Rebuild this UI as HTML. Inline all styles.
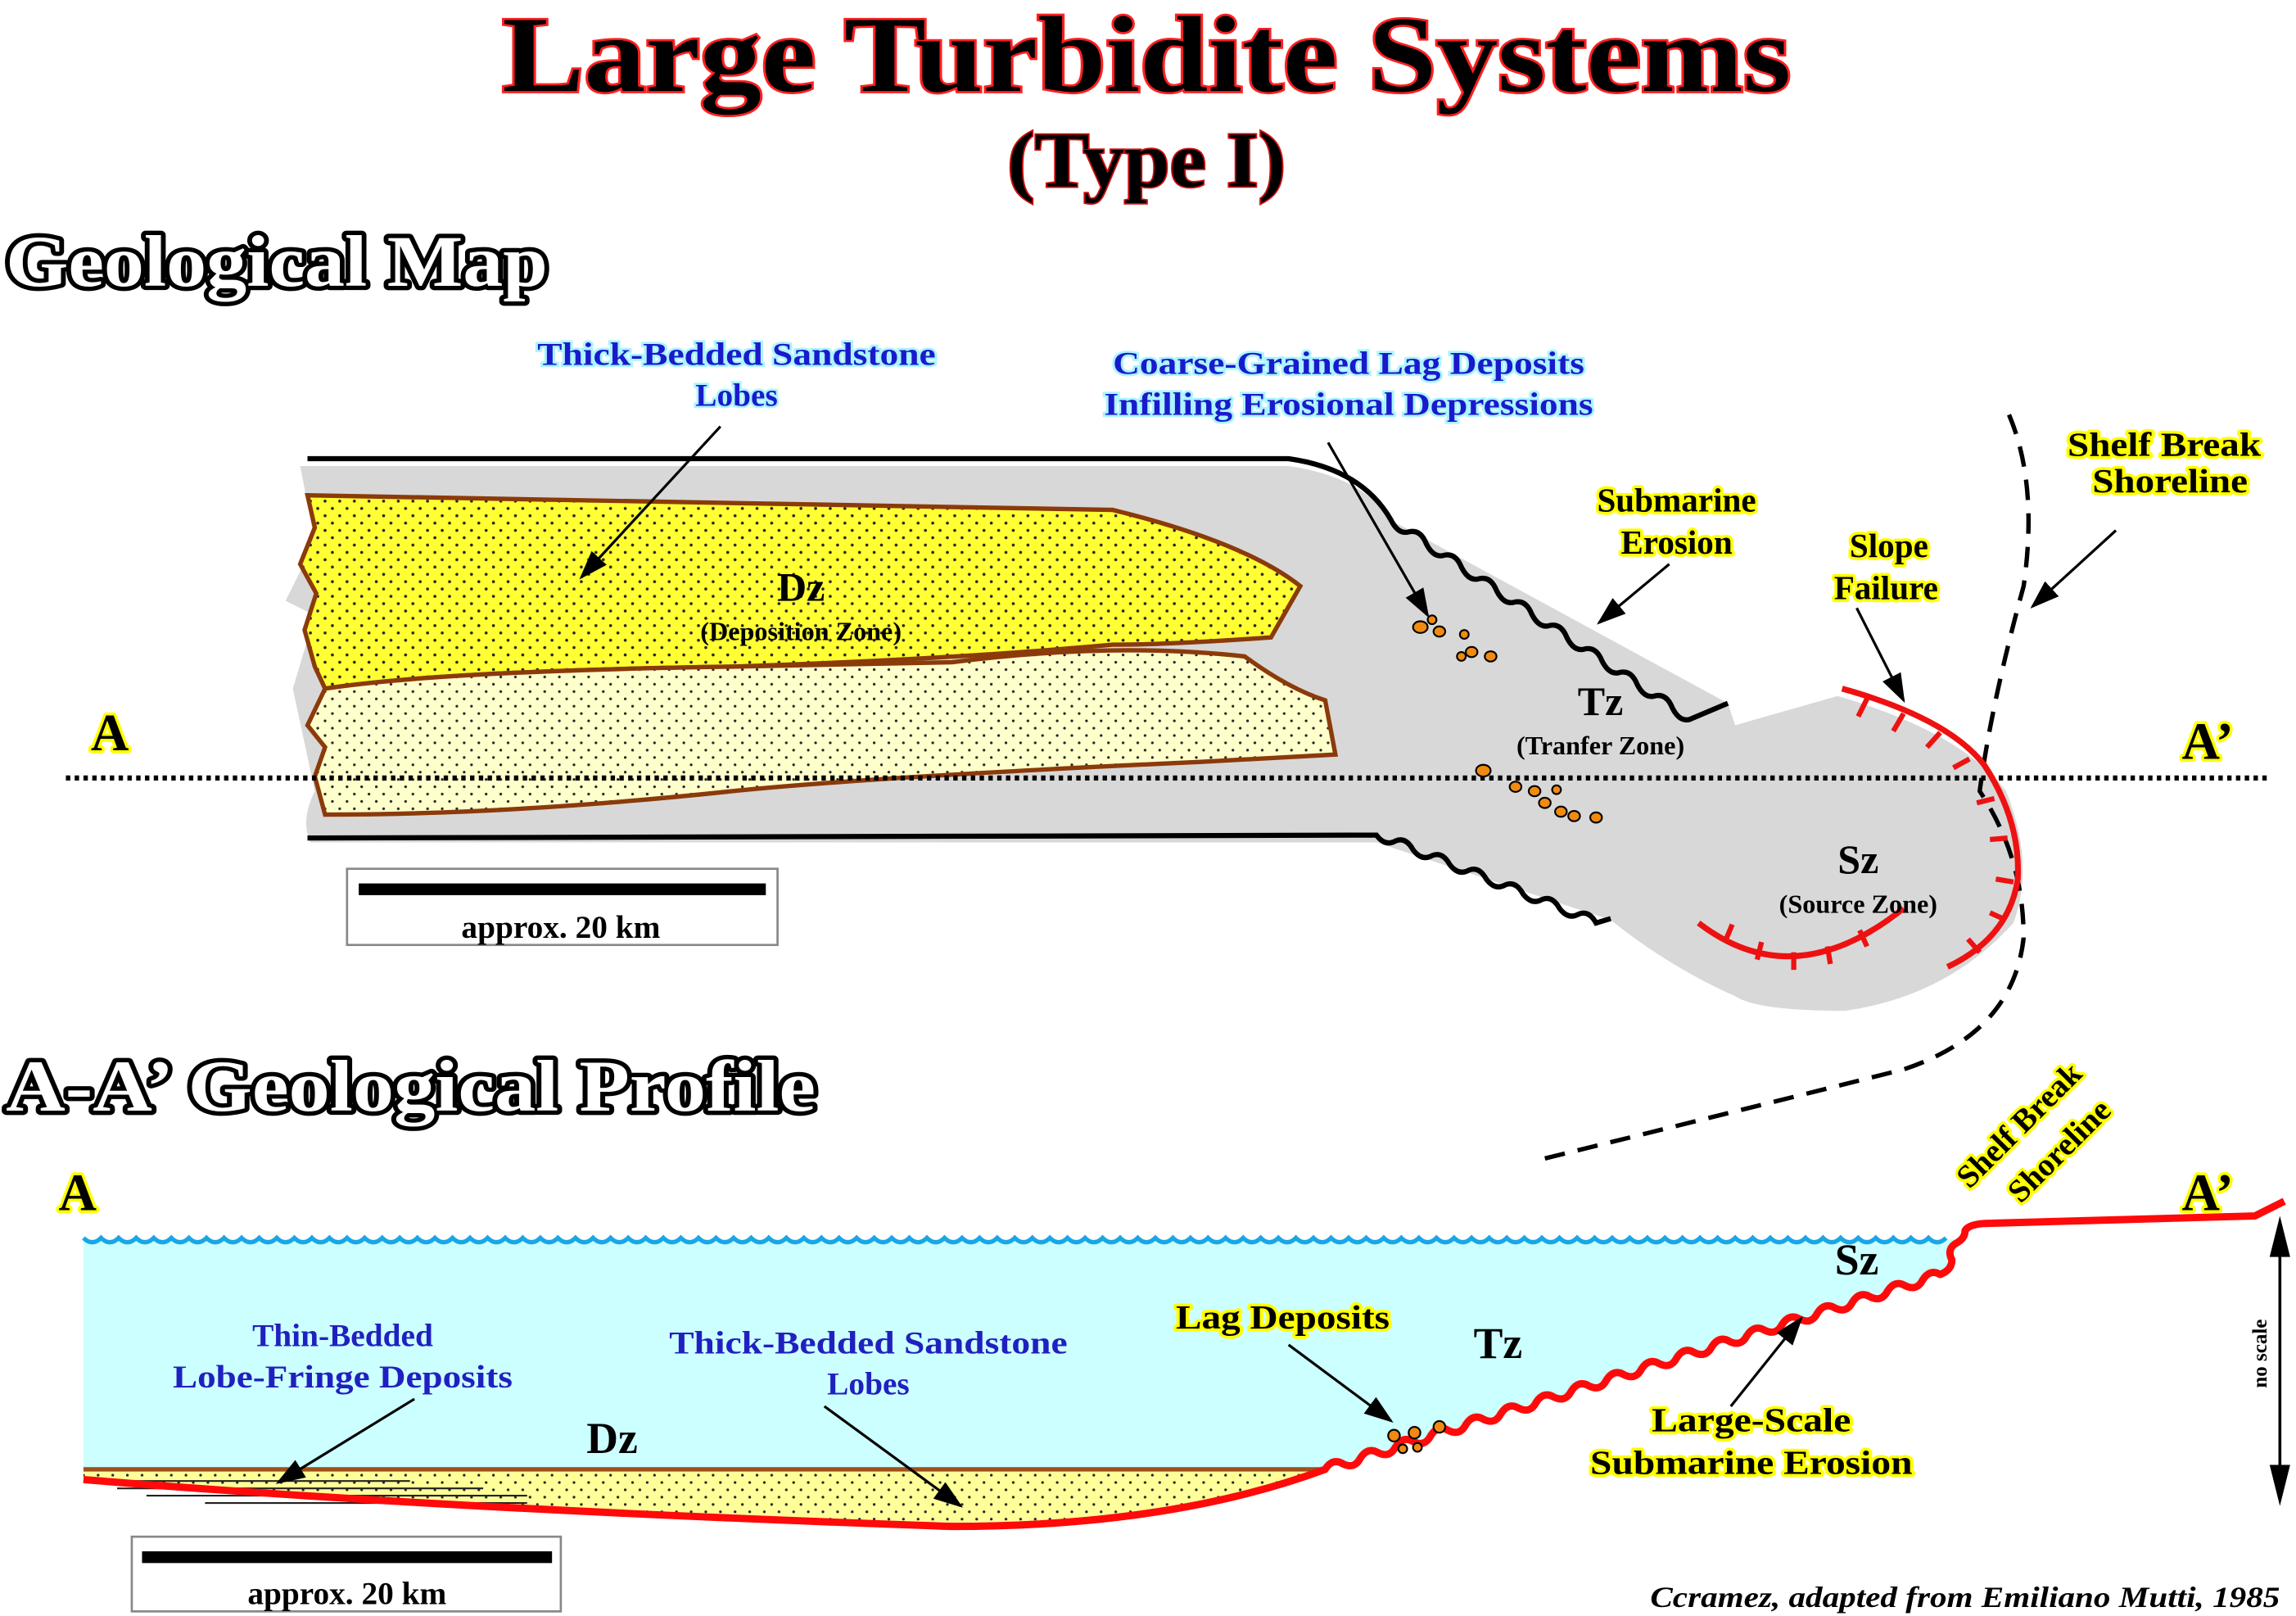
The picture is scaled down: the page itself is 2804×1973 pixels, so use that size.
<!DOCTYPE html>
<html><head><meta charset="utf-8"><style>html,body{margin:0;padding:0;background:#fff}svg{display:block}</style></head>
<body>
<svg width="2804" height="1973" viewBox="0 0 1568 1103" xmlns="http://www.w3.org/2000/svg">
<defs>
<pattern id="dots" width="10" height="10" patternUnits="userSpaceOnUse"><rect width="10" height="10" fill="#ffff33"/><circle cx="2" cy="2" r="1" fill="#222"/><circle cx="7" cy="7" r="1" fill="#222"/></pattern>
<pattern id="dots2" width="10" height="10" patternUnits="userSpaceOnUse"><rect width="10" height="10" fill="#ffffcc"/><circle cx="2" cy="2" r="0.9" fill="#222"/><circle cx="7" cy="7" r="0.9" fill="#222"/></pattern>
<pattern id="dots3" width="10" height="10" patternUnits="userSpaceOnUse"><rect width="10" height="10" fill="#ffff99"/><circle cx="2" cy="2" r="0.9" fill="#222"/><circle cx="7" cy="7" r="0.9" fill="#222"/></pattern>
<marker id="ahb" markerWidth="20" markerHeight="14" refX="18" refY="7" orient="auto" markerUnits="userSpaceOnUse"><path d="M0,0 L20,7 L0,14 z" fill="#000"/></marker>
</defs>
<style>
text{font-family:"Liberation Serif",serif;font-weight:bold}
.y{fill:#000;stroke:#ffff00;stroke-width:4;paint-order:stroke;stroke-linejoin:round}
.b{fill:#1a1acc;stroke:#aaf4ff;stroke-width:3;paint-order:stroke}
.bl{fill:#2020c0}
</style>

<text x="783" y="62" text-anchor="middle" font-size="74" textLength="880" lengthAdjust="spacingAndGlyphs" fill="#000" stroke="#ff2020" stroke-width="3" paint-order="stroke">Large Turbidite Systems</text>
<text x="783" y="127" text-anchor="middle" font-size="54" textLength="190" lengthAdjust="spacingAndGlyphs" fill="#000" stroke="#cc1010" stroke-width="2" paint-order="stroke">(Type I)</text>
<text x="4" y="195" font-size="50" textLength="370" lengthAdjust="spacingAndGlyphs" fill="#fff" stroke="#000" stroke-width="6" paint-order="stroke" stroke-linejoin="round">Geological Map</text>
<text x="4" y="758" font-size="50" textLength="553" lengthAdjust="spacingAndGlyphs" fill="#fff" stroke="#000" stroke-width="6" paint-order="stroke" stroke-linejoin="round">A-A’ Geological Profile</text>

<path d="M205,318 L880,318 Q930,325 950,355 L1180,480 L1185,495 Q1220,485 1255,475 Q1340,500 1370,540 Q1390,590 1375,630 Q1330,680 1260,690 Q1200,690 1185,680 Q1140,660 1100,628 L940,575 L212,575 Q205,560 215,540 L200,470 L215,420 L195,410 L215,370 Z" fill="#d8d8d8"/>
<path d="M210,338 L760,348 Q850,370 888,400 L868,435 Q800,440 760,440 Q650,450 500,455 Q300,458 222,470 L215,455 L208,430 L216,405 L205,385 L215,360 Z" fill="url(#dots)" stroke="#8b3a0a" stroke-width="3"/>
<path d="M222,470 Q300,458 500,455 L650,452 Q760,438 850,448 Q880,470 905,478 L912,515 L820,520 Q600,530 500,540 Q350,556 222,556 L215,530 L222,510 L210,495 Z" fill="url(#dots2)" stroke="#8b3a0a" stroke-width="3"/>
<path d="M210,313 L880,313 Q930,320 950,355 q5,10 12,8 q8,-2 12,8 q5,10 12,8 q8,-2 12,8 q5,10 12,8 q8,-2 12,8 q5,10 12,8 q8,-2 12,8 q5,10 12,8 q8,-2 12,8 q5,10 12,8 q8,-2 12,8 q5,10 12,8 q8,-2 12,8 q5,10 12,8 q8,-2 12,8 q5,10 12,8 L1180,480" fill="none" stroke="#000" stroke-width="3.5"/>
<path d="M210,572 L940,570 q6,8 13,4 q7,-3 12,6 q6,8 13,4 q7,-3 12,6 q6,8 13,4 q7,-3 12,6 q6,8 13,4 q7,-3 12,6 q6,8 13,4 q7,-3 12,6 q6,8 13,4 q7,-3 12,6 L1100,627" fill="none" stroke="#000" stroke-width="3.5"/>
<line x1="45" y1="531" x2="1548" y2="531" stroke="#000" stroke-width="3.5" stroke-dasharray="3,3"/>
<path d="M1372,283 Q1392,330 1382,400 Q1360,480 1352,540 Q1382,585 1382,640 Q1375,705 1300,730 Q1180,760 1050,792" fill="none" stroke="#000" stroke-width="3" stroke-dasharray="14,9"/>
<path d="M1258,470 Q1330,490 1355,522 Q1380,560 1378,600 Q1372,640 1330,660" fill="none" stroke="#ee1111" stroke-width="4"/>
<path d="M1275,477 l-6,12 M1300,487 l-7,12 M1325,500 l-9,10 M1345,518 l-11,6 M1362,545 l-12,3 M1371,572 l-12,1 M1375,602 l-12,-2 M1370,628 l-11,-5 M1352,650 l-8,-9" stroke="#ee1111" stroke-width="3.5"/>
<path d="M1160,630 Q1225,680 1300,620" fill="none" stroke="#ee1111" stroke-width="4"/>
<path d="M1178,643 l5,-12 M1200,655 l3,-12 M1225,662 l0,-12 M1250,658 l-2,-12 M1275,646 l-5,-11" stroke="#ee1111" stroke-width="3.5"/>
<g fill="#f08a10" stroke="#000" stroke-width="1.2">
<ellipse cx="970" cy="428" rx="5" ry="4"/><ellipse cx="983" cy="431" rx="4" ry="3.5"/><ellipse cx="978" cy="423" rx="3" ry="3"/><ellipse cx="1000" cy="433" rx="3" ry="3"/><ellipse cx="1005" cy="445" rx="4" ry="3.5"/><ellipse cx="1018" cy="448" rx="4" ry="3.5"/><ellipse cx="998" cy="448" rx="3" ry="3"/>
<ellipse cx="1013" cy="526" rx="5" ry="4"/><ellipse cx="1035" cy="537" rx="4" ry="3.5"/><ellipse cx="1048" cy="540" rx="4" ry="3.5"/><ellipse cx="1055" cy="548" rx="4" ry="3.5"/><ellipse cx="1066" cy="554" rx="4" ry="3.5"/><ellipse cx="1075" cy="557" rx="4" ry="3.5"/><ellipse cx="1090" cy="558" rx="4" ry="3.5"/><ellipse cx="1063" cy="539" rx="3" ry="3"/>
</g>
<text x="62" y="512" class="y" font-size="36">A</text>
<text x="1490" y="518" class="y" font-size="36">A’</text>
<text x="547" y="410" text-anchor="middle" font-size="28">Dz</text>
<text x="547" y="437" text-anchor="middle" font-size="18">(Deposition Zone)</text>
<text x="1093" y="488" text-anchor="middle" font-size="28">Tz</text>
<text x="1093" y="515" text-anchor="middle" font-size="18">(Tranfer Zone)</text>
<text x="1269" y="596" text-anchor="middle" font-size="28">Sz</text>
<text x="1269" y="623" text-anchor="middle" font-size="18">(Source Zone)</text>
<text x="503" y="249" text-anchor="middle" class="b" font-size="22" textLength="272" lengthAdjust="spacingAndGlyphs">Thick-Bedded Sandstone</text>
<text x="503" y="277" text-anchor="middle" class="b" font-size="22">Lobes</text>
<text x="921" y="255" text-anchor="middle" class="b" font-size="22" textLength="322" lengthAdjust="spacingAndGlyphs">Coarse-Grained Lag Deposits</text>
<text x="921" y="283" text-anchor="middle" class="b" font-size="22" textLength="334" lengthAdjust="spacingAndGlyphs">Infilling Erosional Depressions</text>
<text x="1145" y="349" text-anchor="middle" class="y" font-size="23">Submarine</text>
<text x="1145" y="378" text-anchor="middle" class="y" font-size="23">Erosion</text>
<text x="1290" y="380" text-anchor="middle" class="y" font-size="23">Slope</text>
<text x="1288" y="409" text-anchor="middle" class="y" font-size="23">Failure</text>
<text x="1478" y="311" text-anchor="middle" class="y" font-size="23" textLength="132" lengthAdjust="spacingAndGlyphs">Shelf Break</text>
<text x="1482" y="336" text-anchor="middle" class="y" font-size="23" textLength="106" lengthAdjust="spacingAndGlyphs">Shoreline</text>
<g stroke="#000" stroke-width="1.8" fill="none">
<line x1="492" y1="291" x2="397" y2="394" marker-end="url(#ahb)"/>
<line x1="907" y1="302" x2="975" y2="420" marker-end="url(#ahb)"/>
<line x1="1140" y1="385" x2="1092" y2="425" marker-end="url(#ahb)"/>
<line x1="1268" y1="415" x2="1300" y2="478" marker-end="url(#ahb)"/>
<line x1="1445" y1="362" x2="1388" y2="414" marker-end="url(#ahb)"/>
</g>
<rect x="237" y="593" width="294" height="52" fill="#fff" stroke="#888" stroke-width="1.5"/>
<rect x="245" y="603" width="278" height="8" fill="#000"/>
<text x="383" y="640" text-anchor="middle" font-size="22">approx. 20 km</text>

<!-- PROFILE -->
<path d="M905,1003 L1325,870 L1345,840 L1340,846 L57,846 L57,1003 Z" fill="#ccffff"/>
<path d="M57,1003 L905,1003 Q800,1040 650,1042 Q400,1040 57,1008 Z" fill="url(#dots3)"/>
<line x1="57" y1="1003" x2="905" y2="1003" stroke="#a0501a" stroke-width="3"/>
<g stroke="#222" stroke-width="1.2"><line x1="70" y1="1011" x2="280" y2="1011"/><line x1="80" y1="1016" x2="330" y2="1016"/><line x1="100" y1="1021" x2="360" y2="1021"/><line x1="140" y1="1026" x2="360" y2="1026"/></g>
<g fill="none" stroke="#1aa6e6" stroke-width="3">
<path d="M57,845 q6,6 12,0 q6,6 12,0 q6,6 12,0 q6,6 12,0 q6,6 12,0 q6,6 12,0 q6,6 12,0 q6,6 12,0 q6,6 12,0 q6,6 12,0 q6,6 12,0 q6,6 12,0 q6,6 12,0 q6,6 12,0 q6,6 12,0 q6,6 12,0 q6,6 12,0 q6,6 12,0 q6,6 12,0 q6,6 12,0 q6,6 12,0 q6,6 12,0 q6,6 12,0 q6,6 12,0 q6,6 12,0 q6,6 12,0 q6,6 12,0 q6,6 12,0 q6,6 12,0 q6,6 12,0 q6,6 12,0 q6,6 12,0 q6,6 12,0 q6,6 12,0 q6,6 12,0 q6,6 12,0 q6,6 12,0 q6,6 12,0 q6,6 12,0 q6,6 12,0 q6,6 12,0 q6,6 12,0 q6,6 12,0 q6,6 12,0 q6,6 12,0 q6,6 12,0 q6,6 12,0 q6,6 12,0 q6,6 12,0 q6,6 12,0 q6,6 12,0 q6,6 12,0 q6,6 12,0 q6,6 12,0 q6,6 12,0 q6,6 12,0 q6,6 12,0 q6,6 12,0 q6,6 12,0 q6,6 12,0 q6,6 12,0 q6,6 12,0 q6,6 12,0 q6,6 12,0 q6,6 12,0 q6,6 12,0 q6,6 12,0 q6,6 12,0 q6,6 12,0 q6,6 12,0 q6,6 12,0 q6,6 12,0 q6,6 12,0 q6,6 12,0 q6,6 12,0 q6,6 12,0 q6,6 12,0 q6,6 12,0 q6,6 12,0 q6,6 12,0 q6,6 12,0 q6,6 12,0 q6,6 12,0 q6,6 12,0 q6,6 12,0 q6,6 12,0 q6,6 12,0 q6,6 12,0 q6,6 12,0 q6,6 12,0 q6,6 12,0 q6,6 12,0 q6,6 12,0 q6,6 12,0 q6,6 12,0 q6,6 12,0 q6,6 12,0 q6,6 12,0 q6,6 12,0 q6,6 12,0 q6,6 12,0 q6,6 12,0 q6,6 12,0 q6,6 12,0 q6,6 12,0 q6,6 12,0"/>
</g>
<path d="M57,1010 Q300,1030 650,1042 Q800,1042 905,1003 q5,-8 12,-3.8 q8,4 12,-3.8 q5,-8 12,-3.8 q8,4 12,-3.8 q5,-8 12,-3.8 q8,4 12,-3.8 q5,-8 12,-3.8 q8,4 12,-3.8 q5,-8 12,-3.8 q8,4 12,-3.8 q5,-8 12,-3.8 q8,4 12,-3.8 q5,-8 12,-3.8 q8,4 12,-3.8 q5,-8 12,-3.8 q8,4 12,-3.8 q5,-8 12,-3.8 q8,4 12,-3.8 q5,-8 12,-3.8 q8,4 12,-3.8 q5,-8 12,-3.8 q8,4 12,-3.8 q5,-8 12,-3.8 q8,4 12,-3.8 q5,-8 12,-3.8 q8,4 12,-3.8 q5,-8 12,-3.8 q8,4 12,-3.8 q5,-8 12,-3.8 q8,4 12,-3.8 q5,-8 12,-3.8 q8,4 12,-3.8 q5,-8 12,-3.8 q8,4 12,-3.8 q5,-8 12,-3.8 q8,-3 8,-10 q-4,-8 4,-12 q5,-3 5,-8 Q1345,835 1360,835 L1540,830 L1560,820" fill="none" stroke="#ff0a0a" stroke-width="5" stroke-linejoin="round"/>
<g fill="#f08a10" stroke="#000" stroke-width="1.2">
<ellipse cx="952" cy="980" rx="4" ry="4"/><ellipse cx="966" cy="978" rx="4" ry="4"/><ellipse cx="983" cy="974" rx="4" ry="4"/><ellipse cx="958" cy="989" rx="3" ry="3"/><ellipse cx="968" cy="988" rx="3" ry="3"/>
</g>
<line x1="1557" y1="845" x2="1557" y2="1015" stroke="#000" stroke-width="2"/>
<path d="M1557,830 L1550,858 L1564,858 Z M1557,1028 L1550,1000 L1564,1000 Z" fill="#000"/>
<text transform="translate(1548,924) rotate(-90)" text-anchor="middle" font-size="14">no scale</text>
<text x="40" y="826" class="y" font-size="36">A</text>
<text x="1490" y="826" class="y" font-size="36">A’</text>
<text transform="translate(1345,812) rotate(-45)" class="y" font-size="22">Shelf Break</text>
<text transform="translate(1380,822) rotate(-45)" class="y" font-size="22">Shoreline</text>
<text x="418" y="992" text-anchor="middle" font-size="30">Dz</text>
<text x="1023" y="927" text-anchor="middle" font-size="30">Tz</text>
<text x="1268" y="870" text-anchor="middle" font-size="30">Sz</text>
<text x="234" y="919" text-anchor="middle" class="bl" font-size="22">Thin-Bedded</text>
<text x="234" y="947" text-anchor="middle" class="bl" font-size="22" textLength="232" lengthAdjust="spacingAndGlyphs">Lobe-Fringe Deposits</text>
<text x="593" y="924" text-anchor="middle" class="bl" font-size="22" textLength="272" lengthAdjust="spacingAndGlyphs">Thick-Bedded Sandstone</text>
<text x="593" y="952" text-anchor="middle" class="bl" font-size="22">Lobes</text>
<text x="876" y="907" text-anchor="middle" class="y" font-size="23" textLength="146" lengthAdjust="spacingAndGlyphs">Lag Deposits</text>
<text x="1196" y="977" text-anchor="middle" class="y" font-size="23" textLength="136" lengthAdjust="spacingAndGlyphs">Large-Scale</text>
<text x="1196" y="1006" text-anchor="middle" class="y" font-size="23" textLength="220" lengthAdjust="spacingAndGlyphs">Submarine Erosion</text>
<g stroke="#000" stroke-width="1.8" fill="none">
<line x1="283" y1="955" x2="190" y2="1012" marker-end="url(#ahb)"/>
<line x1="563" y1="960" x2="656" y2="1028" marker-end="url(#ahb)"/>
<line x1="880" y1="918" x2="950" y2="970" marker-end="url(#ahb)"/>
<line x1="1182" y1="960" x2="1230" y2="900" marker-end="url(#ahb)"/>
</g>
<rect x="90" y="1049" width="293" height="51" fill="#fff" stroke="#888" stroke-width="1.5"/>
<rect x="97" y="1059" width="280" height="8" fill="#000"/>
<text x="237" y="1095" text-anchor="middle" font-size="22">approx. 20 km</text>
<text x="1557" y="1097" text-anchor="end" font-size="20" font-style="italic" textLength="430" lengthAdjust="spacingAndGlyphs">Ccramez, adapted from Emiliano Mutti, 1985</text>
</svg>
</body></html>
